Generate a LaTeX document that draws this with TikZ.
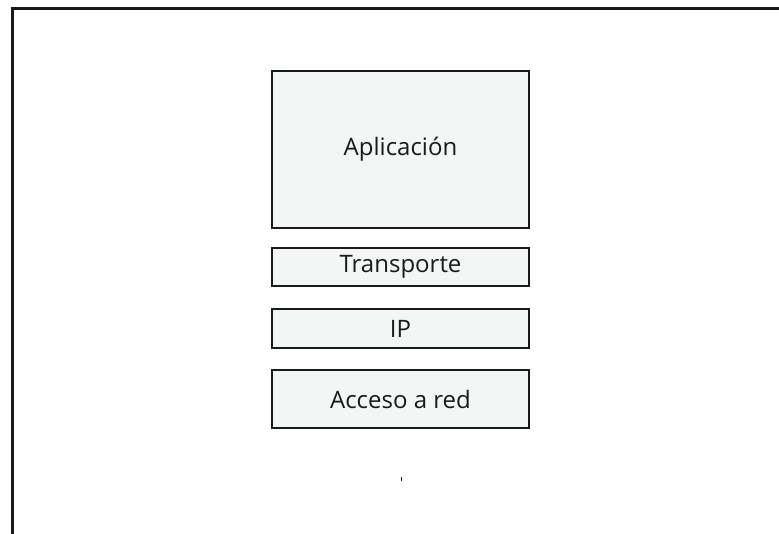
\documentclass[tikz,border=0pt]{standalone}
\usepackage{fontspec}
\setmainfont{Open Sans}
\definecolor{fondcouche}{HTML}{F2F6F5}
\definecolor{traitcouche}{HTML}{1A1A1A}
\begin{document}
\begin{tikzpicture}[x=1pt, y=-1pt]
\tikzset{couche/.style={draw=traitcouche, fill=fondcouche, line width=2.2pt, minimum width=257pt, inner sep=0pt, font=\fontsize{24}{28}\selectfont, text=traitcouche}}
\useasboundingbox (0, 0) rectangle (779, 534);
\draw[line width=3pt, draw=traitcouche] (779, 9) -- (12, 9) -- (12, 534);
\node[couche, minimum height=157pt] (C1) at (400.5, 149.5) {Aplicación};
\node[couche, minimum height=38pt] (C2) at (400.5, 267) {Transporte};
\node[couche, minimum height=39pt] (C3) at (400.5, 328.5) {IP};
\node[couche, minimum height=58pt] (C4) at (400.5, 399) {Acceso a red};
\draw[line width=1pt, draw=traitcouche] (401, 477) -- (401, 481);
\end{tikzpicture}
\end{document}
